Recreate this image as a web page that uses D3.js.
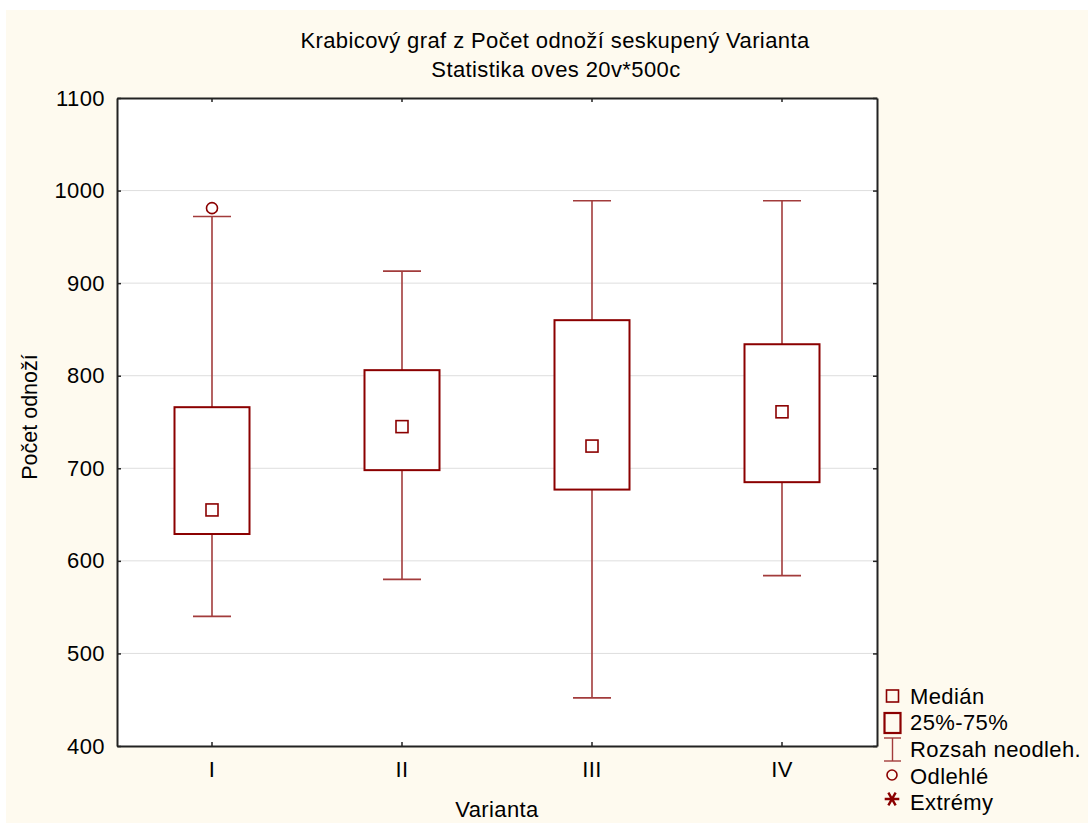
<!DOCTYPE html>
<head>
<meta charset="utf-8">
<title>Krabicový graf</title>
</head>
<style>
body { margin: 0; background: #fff; }
text { font-family: "Liberation Sans", Arial, sans-serif; fill: #000; }
</style>
<body>
<script src="https://d3js.org/d3.v7.min.js"></script>
<script>

// data
var varianta = ["I", "II", "III", "IV"];
var whiskerLow  = [540, 580, 452, 584];
var q1          = [629, 698, 677, 685];
var median      = [655, 745, 724, 761];
var q3          = [766, 806, 860, 834];
var whiskerHigh = [972, 913, 989, 989];
var outliers    = [[981], [], [], []];
var yTicks = [400, 500, 600, 700, 800, 900, 1000, 1100];
var legendItems = ["Medián", "25%-75%", "Rozsah neodleh.", "Odlehlé", "Extrémy"];

var width = 1088, height = 823;
var plot = {left: 117, top: 98, right: 877, bottom: 746};
var red = "#8b0000", whiskerRed = "#a23b3b";

var svg = d3.select("body").append("svg")
  .attr("width", width)
  .attr("height", height);

// cream background
svg.append("rect")
  .attr("x", 6).attr("y", 10)
  .attr("width", width - 6).attr("height", 813)
  .attr("fill", "#fefaef");

var x = d3.scaleBand().domain(varianta).range([plot.left, plot.right]);
var y = d3.scaleLinear().domain([400, 1100]).range([plot.bottom, plot.top]);

svg.append("rect")
  .attr("x", plot.left).attr("y", plot.top)
  .attr("width", plot.right - plot.left).attr("height", plot.bottom - plot.top)
  .attr("fill", "#fff");

// gridlines
svg.append("g").selectAll("line")
  .data(yTicks.slice(1, -1))
  .enter().append("line")
  .attr("x1", plot.left).attr("x2", plot.right)
  .attr("y1", function(d) { return y(d); })
  .attr("y2", function(d) { return y(d); })
  .attr("stroke", "#dedede").attr("stroke-width", 1);

// axes
var yAxis = svg.append("g")
  .attr("transform", "translate(" + plot.left + ",0)")
  .call(d3.axisLeft(y).tickValues(yTicks).tickFormat(d3.format("d")).tickSizeInner(-4).tickSizeOuter(0).tickPadding(12));
var yAxisR = svg.append("g")
  .attr("transform", "translate(" + plot.right + ",0)")
  .call(d3.axisRight(y).tickValues(yTicks).tickSizeInner(-4).tickSizeOuter(0).tickFormat(""));
var xAxis = svg.append("g")
  .attr("transform", "translate(0," + plot.bottom + ")")
  .call(d3.axisBottom(x).tickSizeInner(-4).tickSizeOuter(0).tickPadding(15));
var xAxisT = svg.append("g")
  .attr("transform", "translate(0," + plot.top + ")")
  .call(d3.axisTop(x).tickSizeInner(-4).tickSizeOuter(0).tickFormat(""));

[yAxis, yAxisR, xAxis, xAxisT].forEach(function(a) {
  a.selectAll("path").attr("stroke", "#222").attr("stroke-width", 2);
  a.selectAll("line").attr("stroke", "#222").attr("stroke-width", 1.5);
  a.selectAll("text").style("font-size", "22px").style("letter-spacing", "0.4px")
    .style("font-family", "Liberation Sans, Arial, sans-serif").attr("fill", "#000");
});

// boxes
var bw = 75, capW = 38;
var box = svg.append("g").selectAll("g")
  .data(varianta)
  .enter().append("g");

function cx(i) { return x(varianta[i]) + x.bandwidth() / 2; }

box.append("line")
  .attr("x1", function(d, i) { return cx(i); })
  .attr("x2", function(d, i) { return cx(i); })
  .attr("y1", function(d, i) { return y(whiskerHigh[i]); })
  .attr("y2", function(d, i) { return y(q3[i]); })
  .attr("stroke", whiskerRed).attr("stroke-width", 1.6);
box.append("line")
  .attr("x1", function(d, i) { return cx(i); })
  .attr("x2", function(d, i) { return cx(i); })
  .attr("y1", function(d, i) { return y(q1[i]); })
  .attr("y2", function(d, i) { return y(whiskerLow[i]); })
  .attr("stroke", whiskerRed).attr("stroke-width", 1.6);
box.append("line")
  .attr("x1", function(d, i) { return cx(i) - capW / 2; })
  .attr("x2", function(d, i) { return cx(i) + capW / 2; })
  .attr("y1", function(d, i) { return y(whiskerHigh[i]); })
  .attr("y2", function(d, i) { return y(whiskerHigh[i]); })
  .attr("stroke", whiskerRed).attr("stroke-width", 1.6);
box.append("line")
  .attr("x1", function(d, i) { return cx(i) - capW / 2; })
  .attr("x2", function(d, i) { return cx(i) + capW / 2; })
  .attr("y1", function(d, i) { return y(whiskerLow[i]); })
  .attr("y2", function(d, i) { return y(whiskerLow[i]); })
  .attr("stroke", whiskerRed).attr("stroke-width", 1.6);
box.append("rect")
  .attr("x", function(d, i) { return cx(i) - bw / 2; })
  .attr("y", function(d, i) { return y(q3[i]); })
  .attr("width", bw)
  .attr("height", function(d, i) { return y(q1[i]) - y(q3[i]); })
  .attr("fill", "#fff").attr("stroke", red).attr("stroke-width", 2);
box.append("rect")
  .attr("x", function(d, i) { return cx(i) - 6; })
  .attr("y", function(d, i) { return y(median[i]) - 6; })
  .attr("width", 12).attr("height", 12)
  .attr("fill", "none").attr("stroke", red).attr("stroke-width", 1.6);
box.each(function(d, i) {
  d3.select(this).selectAll("circle")
    .data(outliers[i])
    .enter().append("circle")
    .attr("cx", cx(i))
    .attr("cy", function(v) { return y(v); })
    .attr("r", 5.5)
    .attr("fill", "none").attr("stroke", red).attr("stroke-width", 1.6);
});

// titles
svg.append("text").attr("x", 555).attr("y", 48).attr("text-anchor", "middle")
  .style("font-size", "22px").style("letter-spacing", "0.4px")
  .text("Krabicový graf z Počet odnoží seskupený Varianta");
svg.append("text").attr("x", 556).attr("y", 77).attr("text-anchor", "middle")
  .style("font-size", "22px").style("letter-spacing", "0.4px")
  .text("Statistika oves 20v*500c");
svg.append("text").attr("x", 497).attr("y", 817).attr("text-anchor", "middle")
  .style("font-size", "22px").style("letter-spacing", "0.4px").text("Varianta");
svg.append("text").attr("transform", "translate(37,417) rotate(-90)").attr("text-anchor", "middle")
  .style("font-size", "21.5px").text("Počet odnoží");

// legend
var lg = svg.append("g");
var ly = [696, 722, 749, 776, 802];
legendItems.forEach(function(t, i) {
  lg.append("text").attr("x", 910).attr("y", ly[i] + 8)
    .style("font-size", "22px").style("letter-spacing", "0.4px").text(t);
});
lg.append("rect").attr("x", 886.5).attr("y", 690).attr("width", 12).attr("height", 12)
  .attr("fill", "none").attr("stroke", red).attr("stroke-width", 1.6);
lg.append("rect").attr("x", 884.5).attr("y", 713).attr("width", 16).attr("height", 20)
  .attr("fill", "none").attr("stroke", red).attr("stroke-width", 2.2);
lg.append("line").attr("x1", 892.5).attr("x2", 892.5).attr("y1", 738).attr("y2", 761).attr("stroke", whiskerRed).attr("stroke-width", 1.4);
lg.append("line").attr("x1", 884).attr("x2", 901).attr("y1", 738).attr("y2", 738).attr("stroke", whiskerRed).attr("stroke-width", 1.4);
lg.append("line").attr("x1", 884).attr("x2", 901).attr("y1", 761).attr("y2", 761).attr("stroke", whiskerRed).attr("stroke-width", 1.4);
lg.append("circle").attr("cx", 892).attr("cy", 775).attr("r", 5)
  .attr("fill", "none").attr("stroke", red).attr("stroke-width", 1.6);
lg.append("path").attr("d", d3.symbol().type(d3.symbolAsterisk).size(150)())
  .attr("transform", "translate(892,799) rotate(90)")
  .attr("stroke", red).attr("stroke-width", 2.4).attr("fill", "none");

</script>
</body>
